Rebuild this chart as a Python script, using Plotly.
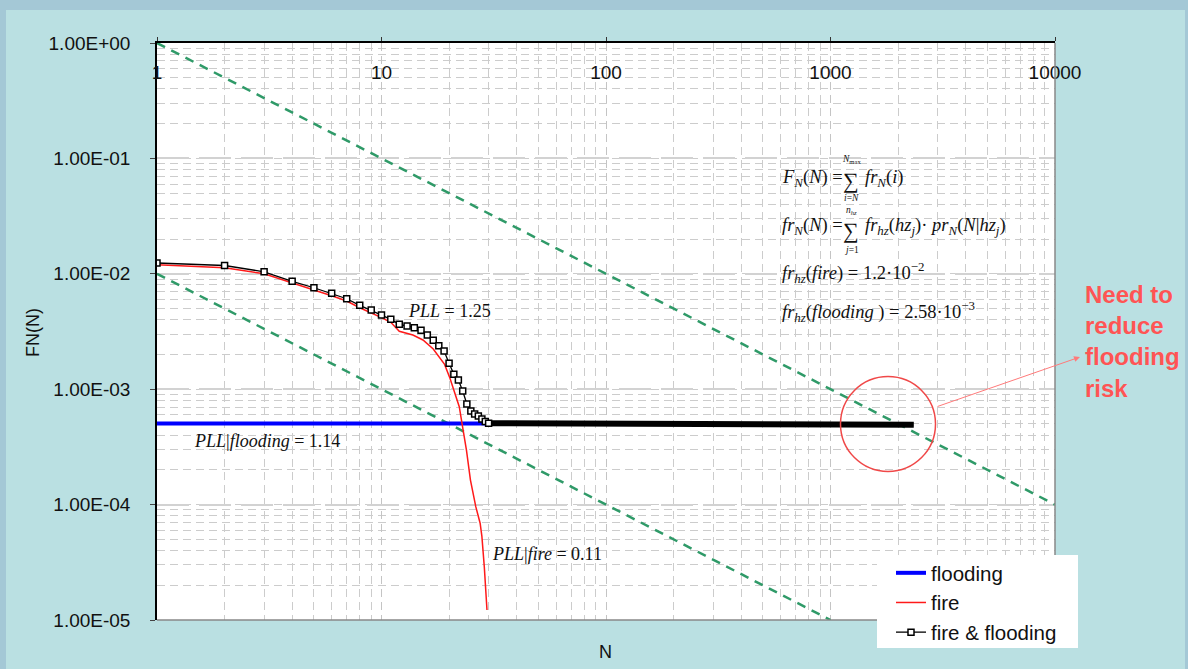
import plotly.graph_objects as go

# ---- data ---------------------------------------------------------------
# fire & flooding combined F-N curve (markers at each N up to the plateau)
comb_N = [1, 2, 3, 4, 5, 6, 7, 8, 9, 10, 11, 12, 13, 14, 15, 16, 17, 18, 19, 20,
          21, 22, 23, 24, 25, 26, 27, 28, 29, 30]
comb_F = [1.24e-2, 1.18e-2, 1.04e-2, 8.6e-3, 7.57e-3, 6.77e-3, 6.08e-3, 5.33e-3,
          4.85e-3, 4.39e-3, 4.03e-3, 3.65e-3, 3.53e-3, 3.41e-3, 3.24e-3, 2.95e-3,
          2.65e-3, 2.38e-3, 2.14e-3, 1.68e-3, 1.35e-3, 1.20e-3, 9.65e-4, 7.44e-4,
          6.47e-4, 6.10e-4, 5.86e-4, 5.52e-4, 5.25e-4, 5.08e-4]
# long plateau of the combined curve (dense markers merge into a thick band)
plateau_N = [30, 100, 300, 1000, 2000, 2350]
plateau_F = [5.08e-4, 5.07e-4, 5.05e-4, 5.0e-4, 4.95e-4, 4.92e-4]

# fire only
fire_N = [1, 2, 3, 4, 5, 6, 7, 8, 9, 10, 11, 12, 13.8, 15.3, 17, 19.1, 20.2, 21.4,
          22.2, 23.1, 23.9, 24.9, 26.3, 27.5, 28.0, 28.7, 29.3, 29.5]
fire_F = [1.2e-2, 1.13e-2, 1.0e-2, 8.27e-3, 7.24e-3, 6.46e-3, 5.81e-3, 5.08e-3,
          4.6e-3, 4.17e-3, 3.8e-3, 3.18e-3, 2.95e-3, 2.67e-3, 2.23e-3, 1.64e-3,
          1.24e-3, 8.6e-4, 7.05e-4, 4.43e-4, 2.97e-4, 1.63e-4, 9.6e-5, 6.9e-5,
          5.3e-5, 2.9e-5, 1.7e-5, 1.22e-5]

# flooding only
flood_N = [1, 30]
flood_F = [5.05e-4, 5.05e-4]

# criterion lines
upper_N = [1, 10000]
upper_F = [1.0, 1e-4]
lower_N = [1, 1000]
lower_F = [1e-2, 1e-5]

y_tickvals = [1, 1e-1, 1e-2, 1e-3, 1e-4, 1e-5]
y_ticktext = ["1.00E+00", "1.00E-01", "1.00E-02", "1.00E-03", "1.00E-04", "1.00E-05"]
x_tickvals = [1, 10, 100, 1000, 10000]
x_ticktext = ["1", "10", "100", "1000", "10000"]

# ---- layout geometry (pixels) ----------------------------------------------
FIG_W, FIG_H = 1188, 669
L, R, T, B = 157, 1055, 43, 620
PW, PH = R - L, B - T


def px(x):
    return (x - L) / PW


def py(y):
    return (B - y) / PH


SANS = "Liberation Sans, Arial, sans-serif"
SERIF = "Liberation Serif, Times New Roman, serif"
GREEN = "#2f9a68"
NOTE_RED = "#ff5454"

fig = go.Figure()

fig.add_trace(go.Scatter(x=upper_N, y=upper_F, mode="lines", showlegend=False,
                         line=dict(color=GREEN, width=2.5, dash="9px,7px"),
                         hoverinfo="skip"))
fig.add_trace(go.Scatter(x=lower_N, y=lower_F, mode="lines", showlegend=False,
                         line=dict(color=GREEN, width=2.5, dash="9px,7px"),
                         hoverinfo="skip"))

fig.add_trace(go.Scatter(x=flood_N, y=flood_F, mode="lines", name="flooding",
                         legendgroup="a",
                         line=dict(color="#0000ff", width=4)))
fig.add_trace(go.Scatter(x=fire_N, y=fire_F, mode="lines", name="fire",
                         legendgroup="b",
                         line=dict(color="#ff1a1a", width=1.5)))
fig.add_trace(go.Scatter(x=plateau_N, y=plateau_F, mode="lines", showlegend=False,
                         line=dict(color="#000000", width=6)))
fig.add_trace(go.Scatter(x=comb_N, y=comb_F, mode="lines+markers",
                         name="fire & flooding", legendgroup="c",
                         line=dict(color="#000000", width=1.3),
                         marker=dict(symbol="square", size=6, color="#ffffff",
                                     line=dict(color="#000000", width=1.5))))

fig.update_xaxes(
    type="log", range=[0, 4], side="top",
    tickmode="array", tickvals=x_tickvals, ticktext=x_ticktext,
    ticklabelposition="inside", ticklabeloverflow="allow", ticklabelstandoff=24,
    tickfont=dict(family=SANS, size=19, color="#111111"),
    ticks="outside", ticklen=4, tickcolor="#333333",
    showline=True, linecolor="#000000", linewidth=1.5,
    showgrid=True, gridcolor="#c4c4c4", gridwidth=1, griddash="8px,5px",
    minor=dict(dtick="D1", showgrid=True, gridcolor="#cccccc", gridwidth=1,
               griddash="8px,5px", ticks=""),
    zeroline=False,
)
fig.update_yaxes(
    type="log", range=[-5, 0],
    tickmode="array", tickvals=y_tickvals, ticktext=y_ticktext,
    tickfont=dict(family=SANS, size=19, color="#111111"),
    ticks="outside", ticklen=5, tickcolor="#444444", ticklabelstandoff=16,
    showline=True, linecolor="#000000", linewidth=1.5,
    showgrid=True, gridcolor="#d2d2d2", gridwidth=2, griddash="32px,10px",
    minor=dict(dtick="D1", showgrid=True, gridcolor="#cccccc", gridwidth=1,
               griddash="8px,5px", ticks=""),
    zeroline=False,
)

shapes = [
    # darker outer frame strips
    dict(type="rect", xref="paper", yref="paper", x0=px(0), x1=px(FIG_W),
         y0=py(10), y1=py(0), fillcolor="#a4c8d6", line=dict(width=0), layer="below"),
    dict(type="rect", xref="paper", yref="paper", x0=px(0), x1=px(6),
         y0=py(FIG_H), y1=py(0), fillcolor="#a4c8d6", line=dict(width=0), layer="below"),
    dict(type="rect", xref="paper", yref="paper", x0=px(1185), x1=px(FIG_W),
         y0=py(FIG_H), y1=py(0), fillcolor="#a4c8d6", line=dict(width=0), layer="below"),
    # plot-area border on the bottom and right
    dict(type="line", xref="paper", yref="paper", x0=0, x1=1, y0=0, y1=0,
         line=dict(color="#888888", width=1.5)),
    dict(type="line", xref="paper", yref="paper", x0=1, x1=1, y0=0, y1=1,
         line=dict(color="#888888", width=1.5)),
    # white panel behind the formulas
    dict(type="rect", xref="paper", yref="paper", x0=px(758), x1=px(1043),
         y0=py(347), y1=py(133), fillcolor="#ffffff", line=dict(width=0),
         layer="between"),
    # white legend panel
    dict(type="rect", xref="paper", yref="paper", x0=px(877), x1=px(1078),
         y0=py(648), y1=py(555), fillcolor="#ffffff", line=dict(width=0),
         layer="above"),
    # circle around the critical region
    dict(type="circle", xref="paper", yref="paper", x0=px(840.5), x1=px(935.5),
         y0=py(471.5), y1=py(376.5), line=dict(color="#f04848", width=1.5)),
]

ann = []


def text(x, y, s, size=16, family=SERIF, xanchor="left", color="#111111", **kw):
    ann.append(dict(xref="paper", yref="paper", x=px(x), y=py(y), text=s,
                    showarrow=False, xanchor=xanchor, yanchor="middle",
                    font=dict(family=family, size=size, color=color), **kw))


FS = 18.5
SX = 851  # centre of the summation signs
# formula panel
text(780, 178, "<i>F</i><sub><i>N</i></sub>(<i>N</i>) =", FS)
text(SX, 180, "∑", 22, xanchor="center")
text(SX, 160, "<i>N</i><sub>max</sub>", 9.5, xanchor="center")
text(SX, 198, "<i>i</i>=<i>N</i>", 9.5, xanchor="center")
text(863, 178, "<i>fr</i><sub><i>N</i></sub>(<i>i</i>)", FS)

text(780, 226, "<i>fr</i><sub><i>N</i></sub>(<i>N</i>) =", FS)
text(SX, 230, "∑", 22, xanchor="center")
text(SX, 210, "<i>n</i><sub><i>hz</i></sub>", 9.5, xanchor="center")
text(SX, 250, "<i>j</i>=1", 9.5, xanchor="center")
text(863, 226, "<i>fr</i><sub><i>hz</i></sub>(<i>hz</i><sub><i>j</i></sub>)· "
               "<i>pr</i><sub><i>N</i></sub>(<i>N</i>|<i>hz</i><sub><i>j</i></sub>)", FS)

text(780, 272, "<i>fr</i><sub><i>hz</i></sub>(<i>fire</i>) = 1.2·10<sup>−2</sup>", FS)
text(780, 311, "<i>fr</i><sub><i>hz</i></sub>(<i>flooding</i> ) = 2.58·10<sup>−3</sup>", FS)

# PLL labels
text(406, 311, "<i>PLL</i> = 1.25", 18)
text(192, 441, "<i>PLL</i>|<i>flooding</i> = 1.14", 18)
text(490, 554, "<i>PLL</i>|<i>fire</i> = 0.11", 18)

# call-out
text(1083, 341, "<b>Need to<br>reduce<br>flooding<br>risk</b>", 24, family=SANS,
     color=NOTE_RED, align="left")
ann.append(dict(xref="paper", yref="paper", x=px(1080), y=py(357), text="",
                showarrow=True, ax=-144, ay=50, arrowhead=2, arrowsize=1.2,
                arrowwidth=1, arrowcolor="#ff7a7a", standoff=0))

# axis titles
text(33, 333, "FN(N)", 18, family=SANS, xanchor="center", textangle=-90)
text(605, 652, "N", 18, family=SANS, xanchor="center")

fig.update_layout(
    width=FIG_W, height=FIG_H,
    margin=dict(l=L, r=FIG_W - R, t=T, b=FIG_H - B, pad=0, autoexpand=False),
    paper_bgcolor="#bae0e2", plot_bgcolor="#ffffff",
    shapes=shapes, annotations=ann,
    legend=dict(x=px(891), y=py(553), xanchor="left", yanchor="top",
                bgcolor="rgba(0,0,0,0)", borderwidth=0,
                font=dict(family=SANS, size=20.5, color="#111111"),
                itemwidth=30, tracegroupgap=0),
    showlegend=True,
)

fig.write_html("out.html")
